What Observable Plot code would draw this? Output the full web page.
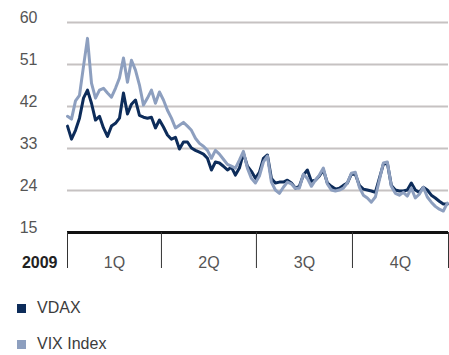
<!DOCTYPE html>
<html>
<head>
<meta charset="utf-8">
<script src="https://cdn.jsdelivr.net/npm/d3@7"></script>
<script src="https://cdn.jsdelivr.net/npm/@observablehq/plot@0.6"></script>
<style>
  body { margin: 0; background: #fff; font-family: "Liberation Sans", Arial, sans-serif; }
  #chart { position: relative; width: 449px; height: 355px; }
  .legend { position: absolute; left: 17px; top: 298px; font-size: 16px; color: #3c3c3c; }
  .legend .item { display: flex; align-items: center; height: 20px; margin-bottom: 16px; }
  .legend .sw { width: 9px; height: 9px; margin-right: 11px; }
</style>
</head>
<body>
<div id="chart"></div>
<script>
// Volatility indices, 2009, sampled roughly every 3.8 calendar days
const seriesNames = ["VDAX", "VIX Index"];
const seriesColors = ["#0d2c5a", "#8d9fbf"];
const yearLabel = "2009";
const quarterLabels = ["1Q", "2Q", "3Q", "4Q"];
const yTicks = [15, 24, 33, 42, 51, 60];

const vdax = [37.8,35.0,36.9,39.5,43.8,45.5,42.7,39.1,39.9,37.4,35.6,37.8,38.4,39.5,44.9,40.4,
  42.5,43.4,40.1,39.7,39.5,39.7,37.4,39.1,37.6,35.9,35.0,35.4,32.9,34.4,34.4,33.1,
  32.6,32.2,31.8,30.9,28.4,30.1,29.9,29.2,28.4,29.0,27.3,28.8,32.0,29.2,28.1,26.6,
  27.9,30.9,31.6,26.6,25.6,25.8,25.8,26.2,25.6,24.5,24.9,27.3,28.4,26.0,26.2,27.1,
  28.4,25.6,24.9,24.3,24.5,25.1,25.6,27.5,27.5,25.1,24.3,24.1,23.9,23.6,26.6,29.6,
  29.9,25.1,24.1,23.9,23.9,24.1,25.6,24.1,23.6,24.7,24.1,23.0,22.4,21.7,21.1,21.1];

const vix = [39.9,39.3,43.2,44.4,50.6,56.6,47.0,43.8,45.5,45.9,44.9,44.0,45.9,48.1,52.4,47.2,
  51.9,49.8,46.6,42.3,43.8,45.5,42.7,45.1,43.4,41.2,39.5,37.4,38.0,38.6,37.8,36.9,
  35.2,34.1,33.5,32.6,30.9,32.6,31.8,30.7,29.6,29.2,28.8,30.5,32.4,28.8,26.6,25.6,
  27.1,30.1,31.4,25.8,24.1,23.4,24.7,25.8,25.4,24.5,24.5,27.5,26.6,24.9,26.2,27.3,
  28.8,25.4,24.1,23.9,24.1,24.5,25.6,27.7,27.9,24.7,23.0,22.4,21.5,22.6,26.2,29.9,
  30.1,24.9,23.4,23.0,23.6,22.8,24.5,22.4,23.2,24.7,22.6,21.5,20.6,20.0,19.6,21.3];

const yearStart = new Date(Date.UTC(2009, 0, 1));
const yearEnd = new Date(Date.UTC(2010, 0, 1));
const sampleStepDays = 3.83;
const dayMs = 86400000;
const sampleDate = i => new Date(+yearStart + i * sampleStepDays * dayMs);

const quarterBounds = [0, 3, 6, 9, 12].map(m => new Date(Date.UTC(2009, m, 1)));
const quarterMids = quarterBounds.slice(0, 4).map((d, i) => new Date((+d + +quarterBounds[i + 1]) / 2));

const vdaxRows = vdax.map((value, i) => ({date: sampleDate(i), value}));
const vixRows = vix.map((value, i) => ({date: sampleDate(i), value}));

const chart = Plot.plot({
  width: 449,
  height: 280,
  marginLeft: 67,
  marginRight: 1,
  marginTop: 22,
  marginBottom: 48,
  style: {fontFamily: "Liberation Sans, Arial, sans-serif", fontSize: "16px", color: "#555", background: "#fff"},
  x: {type: "utc", domain: [yearStart, yearEnd]},
  y: {domain: [15, 60]},
  marks: [
    Plot.ruleY(yTicks.slice(1), {stroke: "#c6c2c2", strokeWidth: 2}),
    Plot.axisY(yTicks, {tickSize: 0, tickPadding: 30, dy: -5, label: null, fill: "#555"}),
    Plot.line(vdaxRows, {x: "date", y: "value", stroke: seriesColors[0], strokeWidth: 3, strokeLinejoin: "round"}),
    Plot.line(vixRows, {x: "date", y: "value", stroke: seriesColors[1], strokeWidth: 3, strokeLinejoin: "round"}),
    Plot.ruleY([15], {stroke: "#111", strokeWidth: 3}),
    Plot.axisX(quarterBounds, {tickSize: 36, tickFormat: () => "", label: null, stroke: "#333"}),
    Plot.axisX(quarterMids, {
      tickSize: 0, tickPadding: 24, label: null, fill: "#555",
      tickFormat: d => quarterLabels[quarterMids.findIndex(m => +m === +d)]
    }),
    Plot.text([yearLabel], {
      x: () => yearStart, y: () => 15, text: d => d,
      dx: -10, dy: 30, textAnchor: "end", fontWeight: "bold", fill: "#222", fontSize: 16
    })
  ]
});

const root = document.getElementById("chart");
root.appendChild(chart);

const legend = document.createElement("div");
legend.className = "legend";
seriesNames.forEach((name, i) => {
  const item = document.createElement("div");
  item.className = "item";
  const sw = document.createElement("span");
  sw.className = "sw";
  sw.style.background = seriesColors[i];
  const label = document.createElement("span");
  label.textContent = name;
  item.appendChild(sw);
  item.appendChild(label);
  legend.appendChild(item);
});
root.appendChild(legend);
</script>
</body>
</html>
